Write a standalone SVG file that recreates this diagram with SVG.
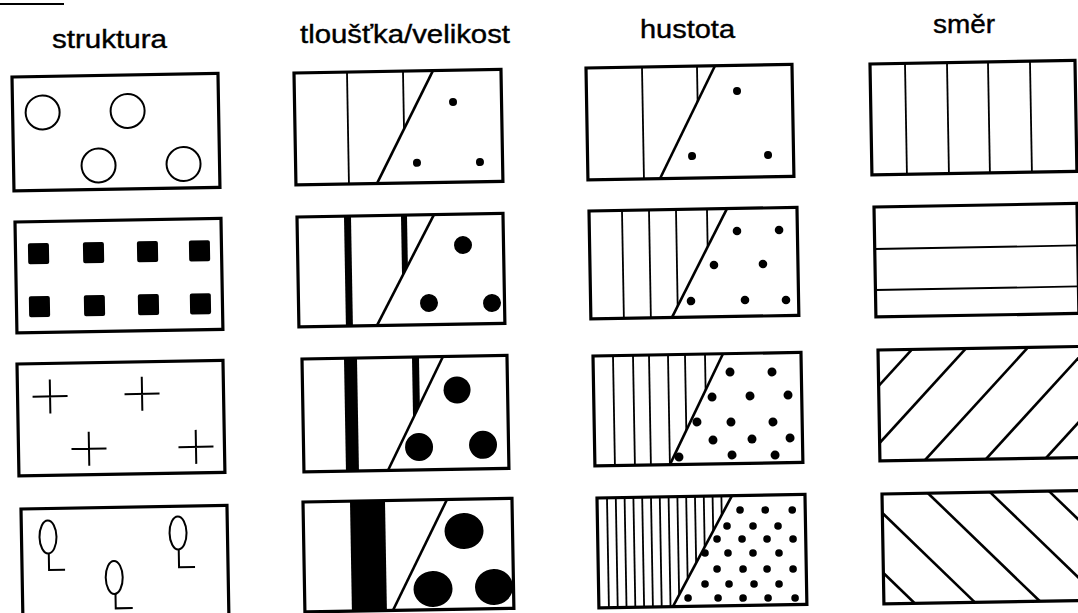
<svg xmlns="http://www.w3.org/2000/svg" width="1078" height="613" viewBox="0 0 1078 613">
<style>
.t{font-family:"Liberation Sans",Arial,Helvetica,sans-serif;font-size:25px;fill:#000;stroke:#000;stroke-width:0.4}
.b{fill:none;stroke:#000;stroke-width:3.2}
.l{stroke:#000;stroke-width:1.8;fill:none}
.d{stroke:#000;stroke-width:2.6;fill:none}
.o{fill:none;stroke:#000;stroke-width:2}
.f{fill:#000}
</style>
<defs>
<clipPath id="c2r1"><polygon points="0,0 139,0 81,112 0,112"/></clipPath>
<clipPath id="c2r2"><polygon points="0,0 137,0 78,110 0,110"/></clipPath>
<clipPath id="c2r3"><polygon points="0,0 141,0 85,113 0,113"/></clipPath>
<clipPath id="c3r1"><polygon points="0,0 129,0 72,112 0,112"/></clipPath>
<clipPath id="c3r2"><polygon points="0,0 138,0 81,108 0,108"/></clipPath>
<clipPath id="c3r3"><polygon points="0,0 130,0 75,110 0,110"/></clipPath>
<clipPath id="c3r4"><polygon points="0,0 135,0 74,110 0,110"/></clipPath>
<clipPath id="c4r3"><rect width="206" height="111"/></clipPath>
<clipPath id="c4r4"><rect width="206" height="110"/></clipPath>
</defs>
<rect width="1078" height="613" fill="#fff"/>

<g id="scan-mark"><line x1="0" y1="4" x2="64" y2="4" stroke="#000" stroke-width="2"/></g>

<g id="titles">
<text class="t" x="52" y="48" textLength="115" lengthAdjust="spacingAndGlyphs">struktura</text>
<text class="t" x="300" y="43" textLength="210" lengthAdjust="spacingAndGlyphs">tloušťka/velikost</text>
<text class="t" x="640" y="38" textLength="95" lengthAdjust="spacingAndGlyphs">hustota</text>
<text class="t" x="933" y="33" textLength="62" lengthAdjust="spacingAndGlyphs">směr</text>
</g>

<!-- column 1: struktura -->
<g id="struktura-1" transform="translate(12,77) rotate(-1)">
<circle cx="30" cy="36" r="17" class="o"/>
<circle cx="115" cy="36" r="17" class="o"/>
<circle cx="85" cy="90" r="17" class="o"/>
<circle cx="170" cy="90" r="17" class="o"/>
<rect width="206" height="114" class="b"/>
</g>
<g id="struktura-2" transform="translate(15,222) rotate(-1)">
<rect x="12.5" y="21.5" width="21" height="21" rx="2" class="f"/>
<rect x="67.5" y="21.5" width="21" height="21" rx="2" class="f"/>
<rect x="121.5" y="21.5" width="21" height="21" rx="2" class="f"/>
<rect x="173.5" y="21.5" width="21" height="21" rx="2" class="f"/>
<rect x="12.5" y="74.5" width="21" height="21" rx="2" class="f"/>
<rect x="67.5" y="74.5" width="21" height="21" rx="2" class="f"/>
<rect x="121.5" y="74.5" width="21" height="21" rx="2" class="f"/>
<rect x="173.5" y="74.5" width="21" height="21" rx="2" class="f"/>
<rect width="206" height="111" class="b"/>
</g>
<g id="struktura-3" transform="translate(17,364) rotate(-1)">
<path d="M15,33 H50 M32.5,16 V50" class="o"/>
<path d="M107,32 H142 M124.5,15 V49" class="o"/>
<path d="M53,86 H88 M70.5,69 V103" class="o"/>
<path d="M160,86 H195 M177.5,69 V103" class="o"/>
<rect width="206" height="112" class="b"/>
</g>
<g id="struktura-4" transform="translate(21,509) rotate(-1)">
<ellipse cx="26.5" cy="28.5" rx="8.5" ry="16.5" class="o"/>
<path d="M27,45 V61.5 H43" class="o"/>
<ellipse cx="156.6" cy="26.7" rx="8.5" ry="16.5" class="o"/>
<path d="M157,43 V61 H173" class="o"/>
<ellipse cx="92" cy="70" rx="8.5" ry="16.5" class="o"/>
<path d="M93,86.5 V101 H110" class="o"/>
<rect width="206" height="112" class="b"/>
</g>

<!-- column 2: tloustka/velikost -->
<g id="tloustka-1" transform="translate(294,73) rotate(-1)">
<g clip-path="url(#c2r1)"><line x1="53" y1="0" x2="53" y2="112" class="l"/><line x1="109" y1="0" x2="109" y2="112" class="l"/></g>
<line x1="139" y1="0" x2="81" y2="112" class="d"/>
<circle cx="158.5" cy="31.8" r="4" class="f"/>
<circle cx="121.4" cy="92" r="4" class="f"/>
<circle cx="184.4" cy="92.3" r="4" class="f"/>
<rect width="207" height="112" class="b"/>
</g>
<g id="tloustka-2" transform="translate(297,217) rotate(-1)">
<g clip-path="url(#c2r2)"><rect x="47" y="0" width="7" height="110" class="f"/><rect x="104" y="0" width="6" height="110" class="f"/></g>
<line x1="137" y1="0" x2="78" y2="110" class="d"/>
<circle cx="165.5" cy="31" r="9" class="f"/>
<circle cx="130.5" cy="88.3" r="9" class="f"/>
<circle cx="193.5" cy="89.4" r="9" class="f"/>
<rect width="206" height="110" class="b"/>
</g>
<g id="tloustka-3" transform="translate(302,359) rotate(-1)">
<g clip-path="url(#c2r3)"><rect x="42" y="0" width="13" height="113" class="f"/><rect x="110" y="0" width="7" height="113" class="f"/></g>
<line x1="141" y1="0" x2="84" y2="113" class="d"/>
<circle cx="154.5" cy="33.7" r="13.5" class="f"/>
<circle cx="115.5" cy="90" r="14" class="f"/>
<circle cx="179.5" cy="89" r="14" class="f"/>
<rect width="205" height="113" class="b"/>
</g>
<g id="tloustka-4" transform="translate(303,502) rotate(-1)">
<rect x="47" y="0" width="35" height="110" class="f"/>
<line x1="144" y1="0" x2="88" y2="110" class="d"/>
<ellipse cx="160.5" cy="31.8" rx="19.5" ry="18" class="f"/>
<ellipse cx="128.5" cy="89.3" rx="19.5" ry="18" class="f"/>
<ellipse cx="189.5" cy="88.3" rx="19" ry="18" class="f"/>
<rect width="209" height="110" class="b"/>
</g>

<!-- column 3: hustota -->
<g id="hustota-1" transform="translate(586,68) rotate(-1)">
<g clip-path="url(#c3r1)"><line x1="56" y1="0" x2="56" y2="112" class="l"/><line x1="111" y1="0" x2="111" y2="112" class="l"/></g>
<line x1="129" y1="0" x2="72" y2="112" class="d"/>
<circle cx="150.6" cy="25.6" r="4" class="f"/>
<circle cx="104.5" cy="89.9" r="4" class="f"/>
<circle cx="180.5" cy="90.2" r="4" class="f"/>
<rect width="206" height="112" class="b"/>
</g>
<g id="hustota-2" transform="translate(589,211) rotate(-1)">
<g clip-path="url(#c3r2)">
<line x1="33" y1="0" x2="33" y2="108" class="l"/><line x1="60" y1="0" x2="60" y2="108" class="l"/>
<line x1="87" y1="0" x2="87" y2="108" class="l"/><line x1="118" y1="0" x2="118" y2="108" class="l"/>
</g>
<line x1="138" y1="0" x2="81" y2="108" class="d"/>
<circle cx="147.6" cy="22.6" r="4.3" class="f"/>
<circle cx="189.7" cy="22.3" r="4.3" class="f"/>
<circle cx="124" cy="56.2" r="4.3" class="f"/>
<circle cx="173" cy="56" r="4.3" class="f"/>
<circle cx="100.4" cy="91.8" r="4.3" class="f"/>
<circle cx="154.4" cy="91.7" r="4.3" class="f"/>
<circle cx="195.4" cy="92.4" r="4.3" class="f"/>
<rect width="208" height="108" class="b"/>
</g>
<g id="hustota-3" transform="translate(593,356) rotate(-1)">
<g clip-path="url(#c3r3)">
<line x1="20" y1="0" x2="20" y2="110" class="l"/><line x1="40" y1="0" x2="40" y2="110" class="l"/>
<line x1="56" y1="0" x2="56" y2="110" class="l"/><line x1="75" y1="0" x2="75" y2="110" class="l"/>
<line x1="92" y1="0" x2="92" y2="110" class="l"/><line x1="112" y1="0" x2="112" y2="110" class="l"/>
</g>
<line x1="130" y1="0" x2="75" y2="110" class="d"/>
<circle cx="136.7" cy="18.4" r="4.5" class="f"/>
<circle cx="178.7" cy="19.1" r="4.5" class="f"/>
<circle cx="118.3" cy="43.1" r="4.5" class="f"/>
<circle cx="156.3" cy="42.7" r="4.5" class="f"/>
<circle cx="194.3" cy="42.4" r="4.5" class="f"/>
<circle cx="102.8" cy="67.8" r="4.5" class="f"/>
<circle cx="136.8" cy="68.4" r="4.5" class="f"/>
<circle cx="178.8" cy="69.1" r="4.5" class="f"/>
<circle cx="118.5" cy="86.1" r="4.5" class="f"/>
<circle cx="157.5" cy="85.8" r="4.5" class="f"/>
<circle cx="195.6" cy="85.4" r="4.5" class="f"/>
<circle cx="84.2" cy="102.5" r="4.5" class="f"/>
<circle cx="137.3" cy="101.4" r="4.5" class="f"/>
<circle cx="180.3" cy="102.2" r="4.5" class="f"/>
<rect width="208" height="110" class="b"/>
</g>
<g id="hustota-4" transform="translate(597,498) rotate(-1)">
<g clip-path="url(#c3r4)">
<line x1="10" y1="0" x2="10" y2="110" class="l"/><line x1="18.8" y1="0" x2="18.8" y2="110" class="l"/>
<line x1="27.6" y1="0" x2="27.6" y2="110" class="l"/><line x1="36.4" y1="0" x2="36.4" y2="110" class="l"/>
<line x1="45.2" y1="0" x2="45.2" y2="110" class="l"/><line x1="54" y1="0" x2="54" y2="110" class="l"/>
<line x1="62.8" y1="0" x2="62.8" y2="110" class="l"/><line x1="71.6" y1="0" x2="71.6" y2="110" class="l"/>
<line x1="80.4" y1="0" x2="80.4" y2="110" class="l"/><line x1="89.2" y1="0" x2="89.2" y2="110" class="l"/>
<line x1="98" y1="0" x2="98" y2="110" class="l"/><line x1="106.8" y1="0" x2="106.8" y2="110" class="l"/>
<line x1="115.6" y1="0" x2="115.6" y2="110" class="l"/><line x1="124.4" y1="0" x2="124.4" y2="110" class="l"/>
</g>
<line x1="135" y1="0" x2="74" y2="110" class="d"/>
<g class="f">
<circle cx="142.8" cy="14.5" r="3.8"/><circle cx="168" cy="14.9" r="3.8"/><circle cx="195" cy="15.4" r="3.8"/>
<circle cx="129.5" cy="30.3" r="3.8"/><circle cx="155.5" cy="30.7" r="3.8"/><circle cx="180.5" cy="31.2" r="3.8"/>
<circle cx="119.3" cy="43.1" r="3.8"/><circle cx="144.3" cy="43.5" r="3.8"/><circle cx="169.3" cy="44" r="3.8"/><circle cx="195.3" cy="44.4" r="3.8"/>
<circle cx="107" cy="56.9" r="3.8"/><circle cx="130" cy="57.3" r="3.8"/><circle cx="155" cy="57.7" r="3.8"/><circle cx="181" cy="58.2" r="3.8"/>
<circle cx="118.8" cy="73.1" r="3.8"/><circle cx="144.8" cy="73.6" r="3.8"/><circle cx="168.8" cy="74" r="3.8"/><circle cx="194.8" cy="74.4" r="3.8"/>
<circle cx="106.5" cy="87.9" r="3.8"/><circle cx="130.5" cy="88.3" r="3.8"/><circle cx="155.5" cy="88.7" r="3.8"/><circle cx="180.5" cy="89.2" r="3.8"/>
<circle cx="89.3" cy="101.6" r="3.8"/><circle cx="119.3" cy="102.1" r="3.8"/><circle cx="144.3" cy="102.6" r="3.8"/><circle cx="169.3" cy="103" r="3.8"/><circle cx="196.3" cy="103.5" r="3.8"/>
</g>
<rect width="208" height="110" class="b"/>
</g>

<!-- column 4: smer -->
<g id="smer-1" transform="translate(870,64) rotate(-1)">
<line x1="35" y1="0" x2="35" y2="111" class="l"/>
<line x1="77" y1="0" x2="77" y2="111" class="l"/>
<line x1="118" y1="0" x2="118" y2="111" class="l"/>
<line x1="160" y1="0" x2="160" y2="111" class="l"/>
<rect width="205" height="111" class="b"/>
</g>
<g id="smer-2" transform="translate(874,207) rotate(-1)">
<line x1="0" y1="42" x2="203" y2="42" class="l"/>
<line x1="0" y1="83" x2="203" y2="83" class="l"/>
<rect width="203" height="110" class="b"/>
</g>
<g id="smer-3" transform="translate(878,350) rotate(-1)">
<g clip-path="url(#c4r3)">
<line x1="34" y1="0" x2="-71" y2="111" class="d"/>
<line x1="88" y1="0" x2="-17" y2="111" class="d"/>
<line x1="150" y1="0" x2="45" y2="111" class="d"/>
<line x1="211" y1="0" x2="106" y2="111" class="d"/>
<line x1="271" y1="0" x2="166" y2="111" class="d"/>
</g>
<rect width="206" height="111" class="b"/>
</g>
<g id="smer-4" transform="translate(882,494) rotate(-1)">
<g clip-path="url(#c4r4)">
<line x1="-79" y1="0" x2="31" y2="110" class="d"/>
<line x1="-19" y1="0" x2="91" y2="110" class="d"/>
<line x1="46" y1="0" x2="156" y2="110" class="d"/>
<line x1="108" y1="0" x2="218" y2="110" class="d"/>
<line x1="167" y1="0" x2="277" y2="110" class="d"/>
</g>
<rect width="206" height="110" class="b"/>
</g>
<g id="connectors"/>
</svg>
